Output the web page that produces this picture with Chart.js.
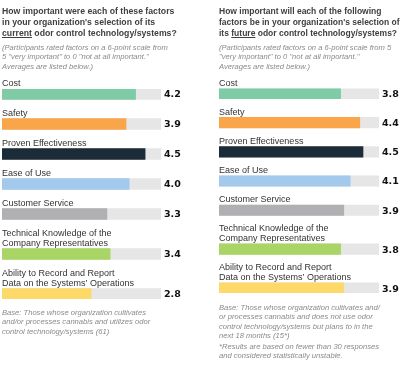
<!DOCTYPE html>
<html>
<head>
<meta charset="utf-8">
<script src="https://cdn.jsdelivr.net/npm/chart.js@4"></script>
<style>
  body { margin: 0; background: #fff; width: 400px; height: 372px; overflow: hidden; position: relative; font-family: "Liberation Sans", Arial, sans-serif; }
  canvas { position: absolute; top: 0; }
  .titre { position: absolute; font-weight: bold; color: #404040; font-size: 8.7px; line-height: 10.8px; white-space: nowrap; }
  .note { position: absolute; font-style: italic; color: #8a8a8a; font-size: 7.6px; line-height: 9.4px; white-space: nowrap; }
</style>
</head>
<body>
<canvas id="chartActuel" width="200" height="372" style="left:0"></canvas>
<canvas id="chartFutur" width="200" height="372" style="left:200px"></canvas>

<div class="titre" style="left:2px; top:6px">How important were each of these factors<br>in your organization's selection of its<br><u>current</u> odor control technology/systems?</div>
<div class="note" style="left:2px; top:43px">(Participants rated factors on a 6-point scale from<br>5 "very important" to 0 "not at all important."<br>Averages are listed below.)</div>
<div class="note" style="left:2px; top:308px">Base: Those whose organization cultivates<br>and/or processes cannabis and utilizes odor<br>control technology/systems (61)</div>

<div class="titre" style="left:219px; top:6px; font-size:8.5px">How important will each of the following<br>factors be in your organization's selection of<br>its <u>future</u> odor control technology/systems?</div>
<div class="note" style="left:219px; top:43px">(Participants rated factors on a 6-point scale from 5<br>"very important" to 0 "not at all important."<br>Averages are listed below.)</div>
<div class="note" style="left:219px; top:303px">Base: Those whose organization cultivates and/<br>or processes cannabis and does not use odor<br>control technology/systems but plans to in the<br>next 18 months (15*)</div>
<div class="note" style="left:219px; top:342px">*Results are based on fewer than 30 responses<br>and considered statistically unstable.</div>

<script>
// Données
const facteurs = [
    'Cost',
    'Safety',
    'Proven Effectiveness',
    'Ease of Use',
    'Customer Service',
    ['Technical Knowledge of the', 'Company Representatives'],
    ['Ability to Record and Report', 'Data on the Systems\u2019 Operations']
];
const moyennesActuel = [4.2, 3.9, 4.5, 4.0, 3.3, 3.4, 2.8];
const moyennesFutur = [3.8, 4.4, 4.5, 4.1, 3.9, 3.8, 3.9];
const echelleMax = 5;
const couleurs = ['#7ecba5', '#f9a64b', '#1b2b37', '#a3c9ec', '#b0b0b2', '#a9d466', '#fdd969'];
const couleurPiste = '#e6e6e6';

const casesParGraphe = {};  // cases de chaque canvas, pour le plugin

// Chaque ligne prend des "cases" : l'étiquette au-dessus + la barre
function nbLignes(etiquette) {
    return Array.isArray(etiquette) ? etiquette.length : 1;
}

function construireCases(valeurs) {
    let cases = [];
    for (let i = 0; i < facteurs.length; i++) {
        if (i > 0) {
            let ecart = 2 + nbLignes(facteurs[i]);
            for (let k = 0; k < ecart - 1; k++) {
                cases.push({ etiquette: '', valeur: null, couleur: null });
            }
        }
        cases.push({ etiquette: facteurs[i], valeur: valeurs[i], couleur: couleurs[i] });
    }
    return cases;
}

const pluginTextes = {
    id: 'textes',
    afterDatasetsDraw(chart) {
        const ctx = chart.ctx;
        const meta = chart.getDatasetMeta(0);
        const cases = casesParGraphe[chart.canvas.id];
        const xScale = chart.scales.x;
        ctx.save();
        meta.data.forEach((barre, i) => {
            const c = cases[i];
            if (c.valeur === null) return;
            const haut = barre.y - barre.height / 2;
            const lignes = Array.isArray(c.etiquette) ? c.etiquette : [c.etiquette];
            ctx.font = '9px "Liberation Sans", Arial, sans-serif';
            ctx.fillStyle = '#333';
            ctx.textAlign = 'left';
            ctx.textBaseline = 'alphabetic';
            lignes.forEach((ligne, j) => {
                ctx.fillText(ligne, xScale.left, haut - 2.5 - (lignes.length - 1 - j) * 10);
            });
            ctx.font = 'bold 9.5px "DejaVu Sans", sans-serif';
            ctx.fillStyle = '#111';
            ctx.textBaseline = 'middle';
            ctx.fillText(c.valeur.toFixed(1), xScale.right + 3, barre.y + 1);
        });
        ctx.restore();
    }
};

function creerGraphe(id, valeurs, padding, epaisseur) {
    const cases = construireCases(valeurs);
    casesParGraphe[id] = cases;
    const ctx = document.getElementById(id).getContext('2d');
    return new Chart(ctx, {
        type: 'bar',
        data: {
            labels: cases.map((c, i) => 'c' + i),
            datasets: [{
                data: cases.map(c => c.valeur),
                backgroundColor: cases.map(c => c.couleur),
                barThickness: epaisseur,
                grouped: false,
                order: 0
            }, {
                data: cases.map(c => c.valeur === null ? null : echelleMax),
                backgroundColor: couleurPiste,
                barThickness: epaisseur,
                grouped: false,
                order: 1
            }]
        },
        options: {
            indexAxis: 'y',
            responsive: false,
            animation: false,
            layout: { padding: padding },
            plugins: { legend: { display: false }, tooltip: { enabled: false } },
            scales: {
                x: { min: 0, max: echelleMax, display: false },
                y: { display: false, offset: true }
            }
        },
        plugins: [pluginTextes]
    });
}

creerGraphe('chartActuel', moyennesActuel, { left: 2, right: 39, top: 89, bottom: 73 }, 11);
creerGraphe('chartFutur', moyennesFutur, { left: 19, right: 21, top: 88.5, bottom: 79 }, 10.5);
</script>
</body>
</html>
